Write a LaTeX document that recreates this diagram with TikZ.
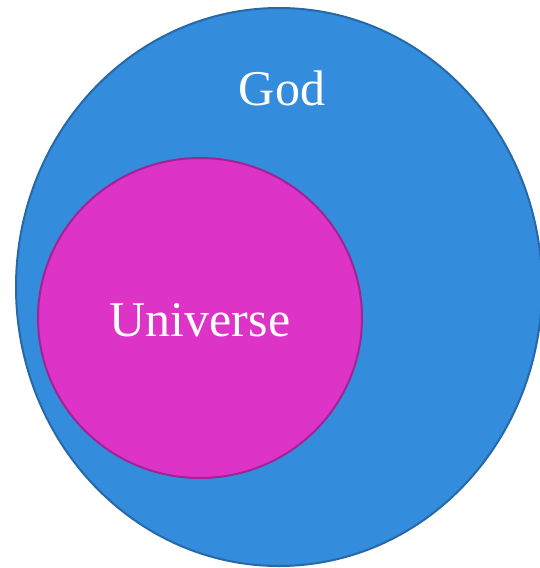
\documentclass[tikz,border=0pt]{standalone}
\usepackage{fontspec}
\setmainfont{Liberation Serif}
\usetikzlibrary{positioning}

\definecolor{godblue}{RGB}{52,140,220}
\definecolor{godedge}{RGB}{38,104,168}
\definecolor{unipink}{RGB}{221,51,198}
\definecolor{uniedge}{RGB}{160,36,150}

\begin{document}
\begin{tikzpicture}[
  x=1pt, y=-1pt,
  label/.style={text=white, font=\fontsize{50}{54}\selectfont, inner sep=0pt}
]
  \useasboundingbox (0,0) rectangle (540,568);
  \clip (0,0) rectangle (540,568);

  % outer set
  \draw[fill=godblue, draw=godedge, line width=2pt] (279,287) ellipse [x radius=263, y radius=279];
  % inner set
  \draw[fill=unipink, draw=uniedge, line width=2pt] (200,318) ellipse [x radius=162, y radius=160];

  \node[label] (god) at (282,88) {God};
  \node[label] (uni) at (200,320) {Universe};
\end{tikzpicture}
\end{document}
